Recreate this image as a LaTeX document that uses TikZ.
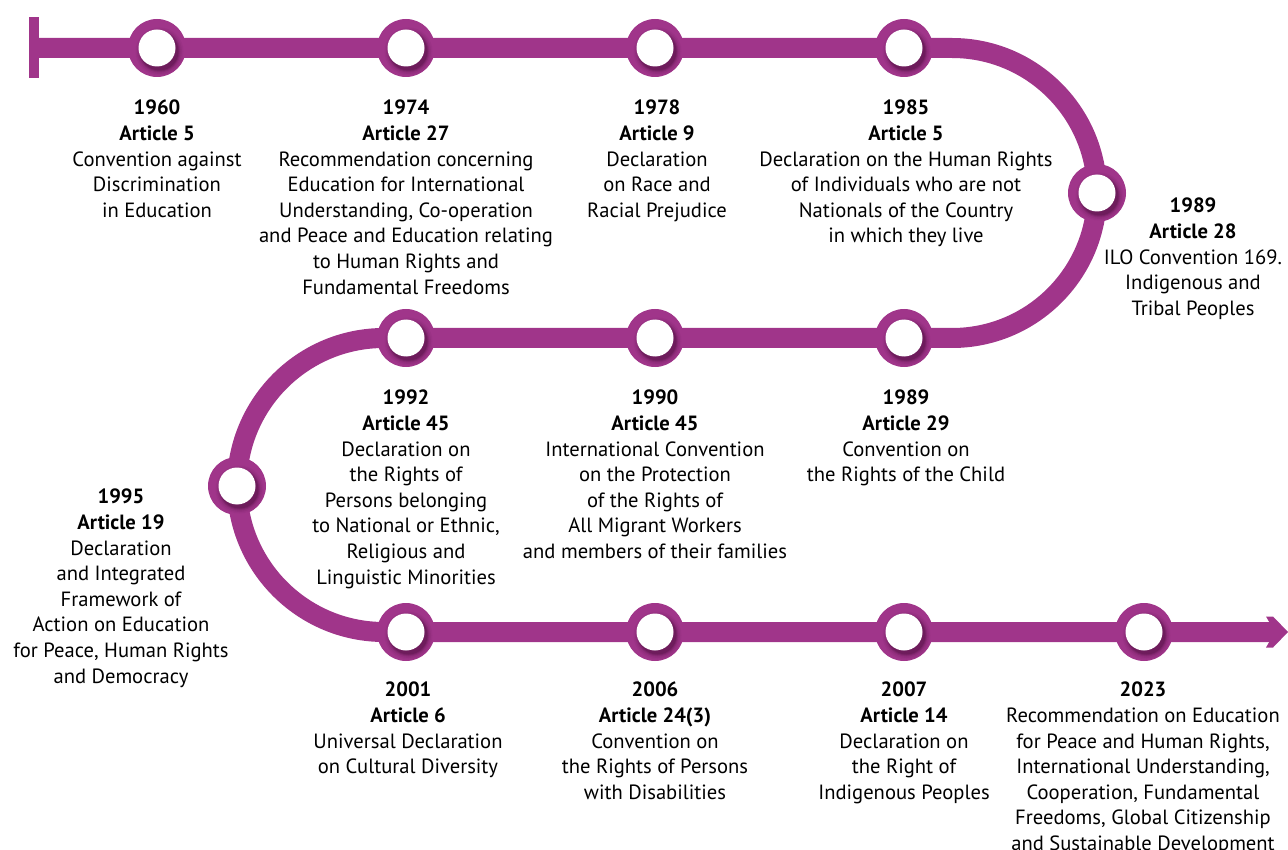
\documentclass[tikz,border=0pt]{standalone}
\usepackage{fontspec}
\setmainfont{PT Sans}
\definecolor{tlpurple}{RGB}{160,53,138}
\definecolor{tlshadow}{RGB}{70,10,55}
\tikzset{
  track/.style={draw=tlpurple, line width=20pt},
  ring/.style={circle, fill=tlpurple, minimum size=58pt, inner sep=0pt},
  hole/.style={circle, fill=white, minimum size=37pt, inner sep=0pt},
  lbl/.style={align=center, inner sep=0pt, anchor=north, text=black,
    font=\fontsize{20.6}{25.6}\selectfont},
}
\begin{document}
\begin{tikzpicture}[x=1pt,y=1pt]
\useasboundingbox (0,0) rectangle (1288,-850);
% start bar
\fill[tlpurple] (29,-17) rectangle (39,-78);
% track
\draw[track] (38,-48) -- (952,-48) arc (90:-90:145) -- (384,-338)
  arc (90:270:147) -- (1275,-632);
\fill[tlpurple] (1266,-616.5) -- (1273,-616.5) -- (1288,-632) -- (1273,-647.5)
  -- (1266,-647.5) -- (1275,-632) -- cycle;
% milestones
\foreach \n/\x/\y in {m1/157/48, m2/406/48, m3/655/48, m4/904/48, m5/1097/193,
  m6/904/338, m7/655/338, m8/406/338, m9/237/486,
  m10/406/632, m11/655/632, m12/904/632, m13/1144/632} {
  \node[ring] (ring\n) at (\x,-\y) {};
  \begin{scope}
    \clip (\x,-\y) circle (29);
    \foreach \r/\op in {24/0.06, 22.5/0.08, 21/0.12, 20/0.18, 19/0.25} {
      \fill[tlshadow, opacity=\op] (\x+2.5,-\y-3.5) circle (\r);
    }
  \end{scope}
  \node[hole] (\n) at (\x,-\y) {};
}
% labels
\node[lbl] (t1) at (157,-100) {\textbf{1960}\\\textbf{Article 5}\\Convention against\\Discrimination\\in Education};
\node[lbl] (t2) at (406,-100) {\textbf{1974}\\\textbf{Article 27}\\Recommendation concerning\\Education for International\\Understanding, Co-operation\\and Peace and Education relating\\to Human Rights and\\Fundamental Freedoms};
\node[lbl] (t3) at (657,-100) {\textbf{1978}\\\textbf{Article 9}\\Declaration\\on Race and\\Racial Prejudice};
\node[lbl] (t4) at (906,-100) {\textbf{1985}\\\textbf{Article 5}\\Declaration on the Human Rights\\of Individuals who are not\\Nationals of the Country\\in which they live};
\node[lbl] (t5) at (1193,-198) {\textbf{1989}\\\textbf{Article 28}\\ILO Convention 169.\\Indigenous and\\Tribal Peoples};
\node[lbl] (t6) at (906,-390) {\textbf{1989}\\\textbf{Article 29}\\Convention on\\the Rights of the Child};
\node[lbl] (t7) at (655,-390) {\textbf{1990}\\\textbf{Article 45}\\International Convention\\on the Protection\\of the Rights of\\All Migrant Workers\\and members of their families};
\node[lbl] (t8) at (406,-390) {\textbf{1992}\\\textbf{Article 45}\\Declaration on\\the Rights of\\Persons belonging\\to National or Ethnic,\\Religious and\\Linguistic Minorities};
\node[lbl] (t9) at (121,-489) {\textbf{1995}\\\textbf{Article 19}\\Declaration\\and Integrated\\Framework of\\Action on Education\\for Peace, Human Rights\\and Democracy};
\node[lbl] (t10) at (408,-682) {\textbf{2001}\\\textbf{Article 6}\\Universal Declaration\\on Cultural Diversity};
\node[lbl] (t11) at (655,-682) {\textbf{2006}\\\textbf{Article 24(3)}\\Convention on\\the Rights of Persons\\with Disabilities};
\node[lbl] (t12) at (904,-682) {\textbf{2007}\\\textbf{Article 14}\\Declaration on\\the Right of\\Indigenous Peoples};
\node[lbl] (t13) at (1143,-682) {\textbf{2023}\\Recommendation on Education\\for Peace and Human Rights,\\International Understanding,\\Cooperation, Fundamental\\Freedoms, Global Citizenship\\and Sustainable Development};
\end{tikzpicture}
\end{document}
